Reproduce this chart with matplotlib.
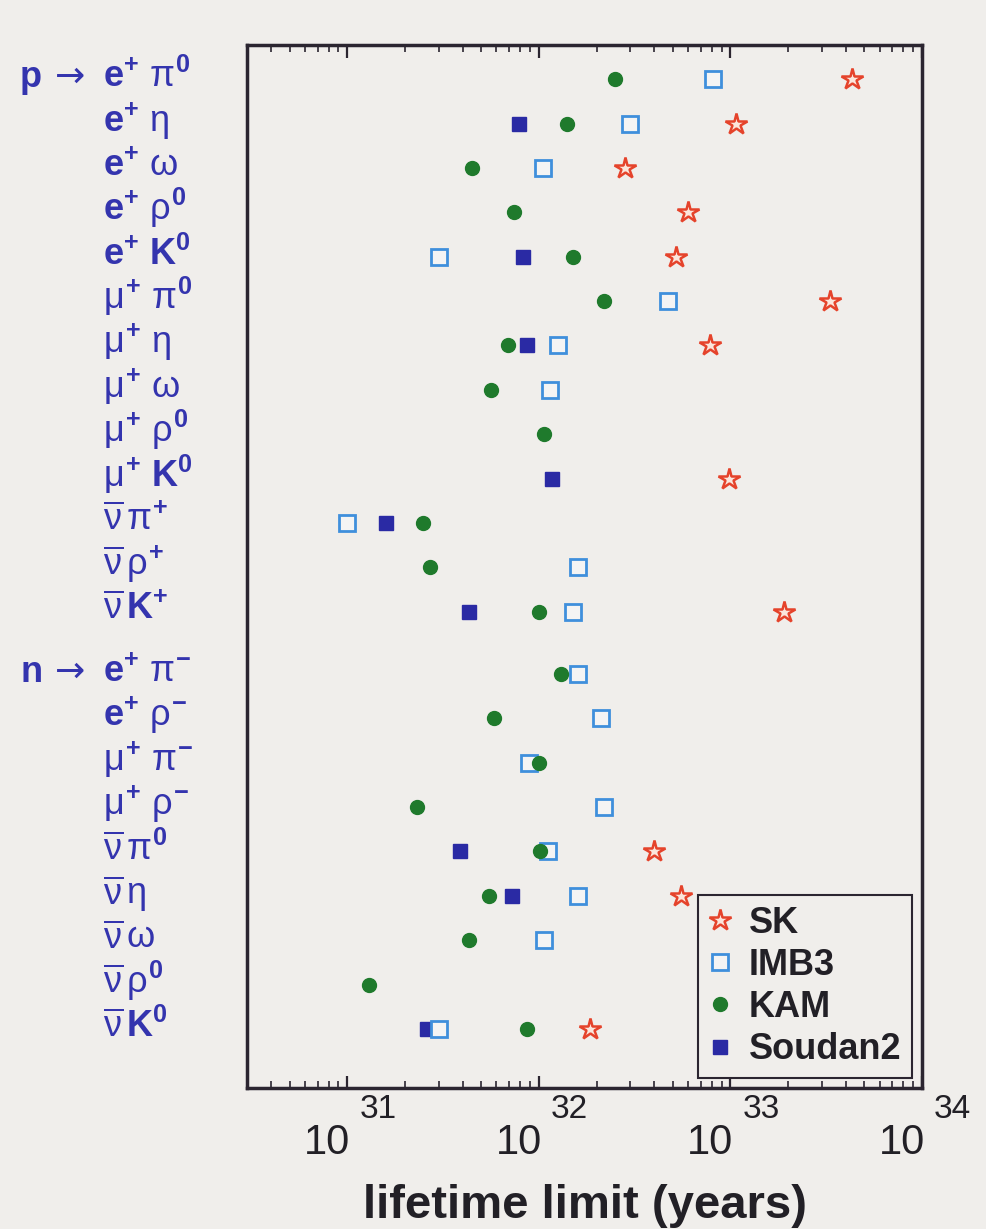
import numpy as np
import matplotlib
matplotlib.use("Agg")
import matplotlib.pyplot as plt
from matplotlib.ticker import LogLocator, NullFormatter, NullLocator
from matplotlib.transforms import offset_copy

# ---------------------------------------------------------------------------
# DATA  (partial lifetime limits, years; nan = no limit from that experiment)
# ---------------------------------------------------------------------------
nan = np.nan

p_channels = [
    r"$\mathbf{e}^{\mathbf{+}}\ \pi^{\mathbf{0}}$",
    r"$\mathbf{e}^{\mathbf{+}}\ \eta$",
    r"$\mathbf{e}^{\mathbf{+}}\ \omega$",
    r"$\mathbf{e}^{\mathbf{+}}\ \rho^{\mathbf{0}}$",
    r"$\mathbf{e}^{\mathbf{+}}\ \mathbf{K}^{\mathbf{0}}$",
    r"$\mu^{\mathbf{+}}\ \pi^{\mathbf{0}}$",
    r"$\mu^{\mathbf{+}}\ \eta$",
    r"$\mu^{\mathbf{+}}\ \omega$",
    r"$\mu^{\mathbf{+}}\ \rho^{\mathbf{0}}$",
    r"$\mu^{\mathbf{+}}\ \mathbf{K}^{\mathbf{0}}$",
    r"$\overline{\nu}\,\pi^{\mathbf{+}}$",
    r"$\overline{\nu}\,\rho^{\mathbf{+}}$",
    r"$\overline{\nu}\,\mathbf{K}^{\mathbf{+}}$",
]
n_channels = [
    r"$\mathbf{e}^{\mathbf{+}}\ \pi^{\mathbf{-}}$",
    r"$\mathbf{e}^{\mathbf{+}}\ \rho^{\mathbf{-}}$",
    r"$\mu^{\mathbf{+}}\ \pi^{\mathbf{-}}$",
    r"$\mu^{\mathbf{+}}\ \rho^{\mathbf{-}}$",
    r"$\overline{\nu}\,\pi^{\mathbf{0}}$",
    r"$\overline{\nu}\,\eta$",
    r"$\overline{\nu}\,\omega$",
    r"$\overline{\nu}\,\rho^{\mathbf{0}}$",
    r"$\overline{\nu}\,\mathbf{K}^{\mathbf{0}}$",
]

# proton modes, same order as p_channels
sk_p      = [4.3e33, 1.07e33, 2.8e32, 6.0e32, 5.2e32, 3.3e33, 7.8e32, nan,    nan,    9.8e32, nan,    nan,    1.9e33]
imb3_p    = [8.1e32, 3.0e32,  1.05e32, nan,   3.0e31, 4.7e32, 1.26e32, 1.15e32, nan,  nan,    1.0e31, 1.6e32, 1.5e32]
kam_p     = [2.5e32, 1.4e32,  4.5e31, 7.4e31, 1.5e32, 2.2e32, 6.9e31, 5.6e31, 1.07e32, nan,   2.5e31, 2.7e31, 1.0e32]
soudan2_p = [nan,    7.9e31,  nan,    nan,    8.3e31, nan,    8.7e31, nan,    nan,    1.17e32, 1.6e31, nan,   4.3e31]

# neutron modes, same order as n_channels
sk_n      = [nan,    nan,    nan,    nan,    4.0e32,  5.5e32, nan,    nan,    1.86e32]
imb3_n    = [1.6e32, 2.1e32, 8.9e31, 2.2e32, 1.12e32, 1.6e32, 1.07e32, nan,   3.0e31]
kam_n     = [1.3e32, 5.8e31, 1.0e32, 2.3e31, 1.02e32, 5.5e31, 4.3e31, 1.3e31, 8.7e31]
soudan2_n = [nan,    nan,    nan,    nan,    3.9e31,  7.2e31, nan,    nan,    2.6e31]

decades = [31, 32, 33, 34]

# ---------------------------------------------------------------------------
# STYLE
# ---------------------------------------------------------------------------
BG = "#f0eeeb"
LABEL_BLUE = "#3434ae"
INK = "#222026"
FONT = ["Liberation Sans", "DejaVu Sans"]

plt.rcParams["font.family"] = FONT
plt.rcParams["mathtext.fontset"] = "custom"
plt.rcParams["mathtext.rm"] = "Liberation Sans"
plt.rcParams["mathtext.it"] = "Liberation Sans"
plt.rcParams["mathtext.bf"] = "Liberation Sans:bold"

GAP = 1.4  # extra spacing between the proton and neutron blocks
y_p = np.arange(len(p_channels))
y_n = len(p_channels) - 1 + GAP + np.arange(len(n_channels))

# ---------------------------------------------------------------------------
# PLOT
# ---------------------------------------------------------------------------
fig = plt.figure(figsize=(9.87, 12.29), dpi=100, facecolor=BG)
ax = fig.add_axes([0.2503, 0.1147, 0.6839, 0.8487], facecolor=BG)
ax.set_xscale("log")
ax.set_xlim(3e30, 1e34)
ax.set_ylim(y_n[-1] + 1.33, -0.77)

ys = np.concatenate([y_p, y_n])
series = [
    ("SK",      sk_p + sk_n,           dict(marker="*", ms=16, mfc="#fbe6dc", mec="#e5432b", mew=1.8), 5),
    ("IMB3",    imb3_p + imb3_n,       dict(marker="s", ms=11, mfc="#f4f4f4", mec="#3f8fdc", mew=2.0), 3),
    ("KAM",     kam_p + kam_n,         dict(marker="o", ms=10, mfc="#1f7a2c", mec="#1f7a2c", mew=1.0), 4),
    ("Soudan2", soudan2_p + soudan2_n, dict(marker="s", ms=10, mfc="#2a2aa4", mec="#2a2aa4", mew=1.0), 2),
]
for name, vals, style, z in series:
    ax.plot(np.array(vals, dtype=float), ys, ls="none", label=name, zorder=z, **style)

# frame and ticks
for sp in ax.spines.values():
    sp.set_linewidth(2.5)
    sp.set_color("#2b2530")
ax.yaxis.set_major_locator(NullLocator())
ax.xaxis.set_major_locator(LogLocator(base=10))
ax.xaxis.set_minor_locator(LogLocator(base=10, subs=np.arange(2, 10)))
ax.xaxis.set_major_formatter(NullFormatter())
ax.xaxis.set_minor_formatter(NullFormatter())
ax.tick_params(axis="x", which="both", direction="in", top=True, bottom=True,
               colors="#2b2530")
ax.tick_params(axis="x", which="major", length=9, width=1.6)
ax.tick_params(axis="x", which="minor", length=5, width=1.2)

# "10" with a raised exponent under each decade
xtrans = ax.get_xaxis_transform()
for d in decades:
    ax.text(10.0**d, 0, "10", fontsize=30, color=INK, ha="right", va="baseline",
            transform=offset_copy(xtrans, fig, x=3, y=-66, units="dots"),
            clip_on=False)
    ax.text(10.0**d, 0, str(d), fontsize=24, color=INK, ha="left", va="baseline",
            transform=offset_copy(xtrans, fig, x=12, y=-30, units="dots"),
            clip_on=False)

ax.text(0.5, -0.1246, "lifetime limit (years)", transform=ax.transAxes,
        ha="center", va="baseline", fontsize=34, fontweight="bold", color=INK)

# decay channel labels
ytrans = offset_copy(ax.get_yaxis_transform(), fig, x=0, y=-8, units="dots")
for y, lab in zip(ys, p_channels + n_channels):
    ax.text(-0.2133, y, lab, transform=ytrans, fontsize=26, color=LABEL_BLUE,
            ha="left", va="baseline", clip_on=False)
for y, parent in [(y_p[0], "p"), (y_n[0], "n")]:
    ax.text(-0.3363, y, parent, transform=ytrans, fontsize=26, fontweight="bold",
            color=LABEL_BLUE, ha="left", va="baseline", clip_on=False)
    ax.text(-0.2844, y, "\u2192", transform=ytrans, fontsize=26,
            family=["DejaVu Sans"], color=LABEL_BLUE, ha="left", va="baseline",
            clip_on=False)

leg = ax.legend(loc="lower right", bbox_to_anchor=(0.985, 0.0096), borderaxespad=0,
                numpoints=1, fancybox=False, framealpha=1, facecolor=BG,
                edgecolor="#2b2530", fontsize=26, handlelength=0.6,
                handletextpad=0.5, labelspacing=0.2, borderpad=0.3)
leg.get_frame().set_linewidth(1.5)
for t in leg.get_texts():
    t.set_fontweight("bold")
    t.set_color(INK)

fig.savefig("out.png", dpi=100, facecolor=BG)
